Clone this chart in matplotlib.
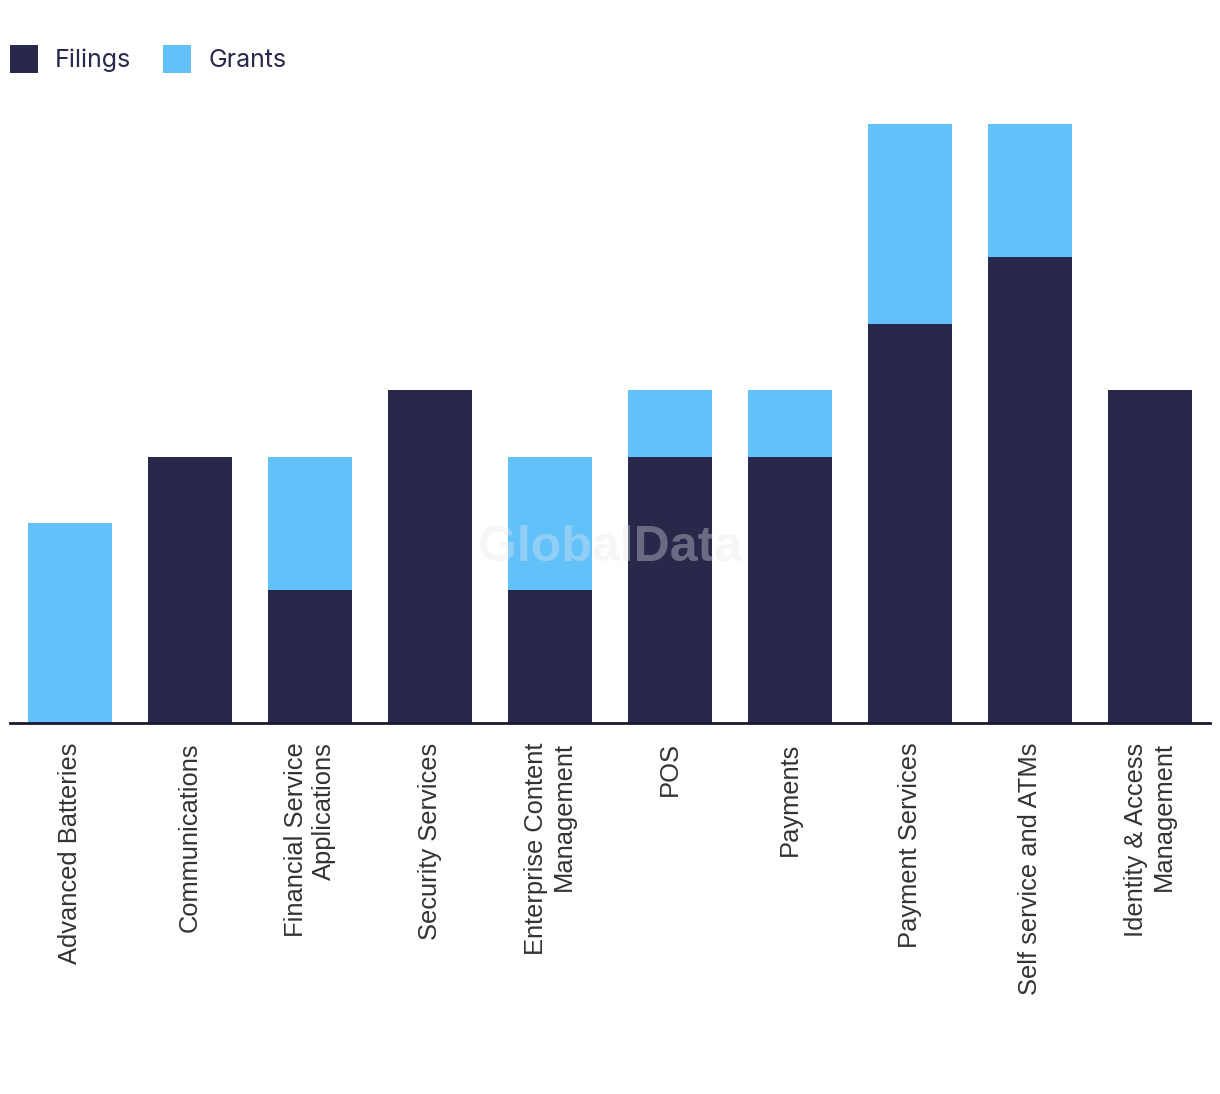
import matplotlib
matplotlib.use("Agg")
import matplotlib.pyplot as plt
from matplotlib.patches import Patch
import numpy as np

categories = ["Advanced Batteries", "Communications", "Financial Service\nApplications",
              "Security Services", "Enterprise Content\nManagement", "POS", "Payments",
              "Payment Services", "Self service and ATMs", "Identity & Access\nManagement"]
filings = [0, 4, 2, 5, 2, 4, 4, 6, 7, 5]
grants = [3, 0, 2, 0, 2, 1, 1, 3, 2, 0]

NAVY = "#27284A"
BLUE = "#62C1F9"

fig = plt.figure(figsize=(12.2, 10.94), dpi=100)
ax = fig.add_axes([10/1220, 1-723/1094, 1200/1220, (723-124)/1094])

x = np.arange(len(categories))
ax.bar(x, filings, width=0.7, color=NAVY, zorder=2)
ax.bar(x, grants, width=0.7, bottom=filings, color=BLUE, zorder=2)

ax.set_xlim(-0.5, len(categories) - 0.5)
ax.set_ylim(0, 9)
for s in ["top", "right", "left"]:
    ax.spines[s].set_visible(False)
ax.spines["bottom"].set_color("#1a1a2e")
ax.spines["bottom"].set_linewidth(2)
ax.set_yticks([])
ax.set_xticks(x)
ax.set_xticklabels(categories, rotation=90, ha="center", va="top", multialignment="right",
                   fontsize=18.4, family="Liberation Sans", color="#333333")
ax.tick_params(axis="x", length=0, pad=14)

fig.text(0.5, 1-548/1094, "GlobalData", ha="center", va="center", fontsize=36,
         fontweight="bold", family="Liberation Sans", color="#e8e8ee", alpha=0.35, zorder=10)

handles = [Patch(facecolor=NAVY, label="Filings"), Patch(facecolor=BLUE, label="Grants")]
fig.legend(handles=handles, loc="upper left", bbox_to_anchor=(10/1220, 1-45/1094), ncol=2,
           frameon=False, handlelength=1.12, handleheight=1.32, handletextpad=0.68,
           columnspacing=1.28, borderpad=0, borderaxespad=0,
           prop={"family": "Inter", "size": 18}, labelcolor="#27284A")

fig.savefig("out.png", dpi=100)
